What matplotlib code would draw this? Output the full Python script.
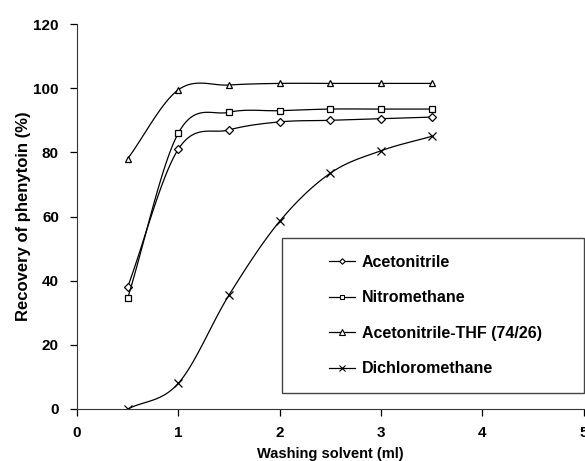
import numpy as np
import matplotlib.pyplot as plt
from matplotlib.patches import Rectangle

plt.rcParams['font.family'] = ['Liberation Sans', 'DejaVu Sans']
plt.rcParams['font.weight'] = 'bold'

# data
volume = [0.5, 1.0, 1.5, 2.0, 2.5, 3.0, 3.5]
acetonitrile = [38, 81, 87, 89.5, 90, 90.5, 91]
nitromethane = [34.5, 86, 92.5, 93, 93.5, 93.5, 93.5]
acn_thf = [78, 99.5, 101, 101.5, 101.5, 101.5, 101.5]
dichloromethane = [0, 8, 35.5, 58.5, 73.5, 80.5, 85]

labels = ['Acetonitrile', 'Nitromethane', 'Acetonitrile-THF (74/26)', 'Dichloromethane']
markers = ['D', 's', '^', 'x']
msizes = [4, 4.5, 5, 6]


def smooth(x, y, n=20):
    # Catmull-Rom curve through the points (like Excel "smoothed line")
    x = np.asarray(x, float)
    y = np.asarray(y, float)
    px = np.concatenate([[2 * x[0] - x[1]], x, [2 * x[-1] - x[-2]]])
    py = np.concatenate([[2 * y[0] - y[1]], y, [2 * y[-1] - y[-2]]])
    xs, ys = [], []
    t = np.linspace(0, 1, n, endpoint=False)
    for i in range(1, len(px) - 2):
        for p, out in ((px, xs), (py, ys)):
            p0, p1, p2, p3 = p[i - 1], p[i], p[i + 1], p[i + 2]
            out.extend(0.5 * (2 * p1 + (-p0 + p2) * t
                              + (2 * p0 - 5 * p1 + 4 * p2 - p3) * t ** 2
                              + (-p0 + 3 * p1 - 3 * p2 + p3) * t ** 3))
    xs.append(x[-1])
    ys.append(y[-1])
    return np.array(xs), np.array(ys)


fig = plt.figure(figsize=(5.85, 4.61), dpi=100)
ax = fig.add_axes([0.1316, 0.1128, 0.866, 0.835])

handles = []
for y, lab, m, ms in zip([acetonitrile, nitromethane, acn_thf, dichloromethane],
                         labels, markers, msizes):
    sx, sy = smooth(volume, y)
    ax.plot(sx, sy, color='black', lw=0.9)
    ax.plot(volume, y, ls='none', marker=m, ms=ms, mfc='white', mec='black', mew=0.9)
    h, = ax.plot([], [], color='black', lw=0.9, marker=m, ms=ms - 1.2,
                 mfc='white', mec='black', mew=0.8)
    handles.append(h)

ax.set_xlim(0, 5)
ax.set_ylim(0, 120)
ax.set_xticks(range(0, 6))
ax.set_yticks(range(0, 121, 20))
for s in ['top', 'right']:
    ax.spines[s].set_visible(False)
for s in ['left', 'bottom']:
    ax.spines[s].set_color('#333333')
ax.tick_params(direction='out', length=5, width=0.9, labelsize=11, colors='black')
ax.tick_params(axis='x', pad=7)
ax.tick_params(axis='y', pad=8)
for lbl in ax.get_xticklabels() + ax.get_yticklabels():
    lbl.set_fontweight('bold')

ax.set_xlabel('Washing solvent (ml)', fontsize=10.5, fontweight='bold', labelpad=5)
ax.set_ylabel('Recovery of phenytoin (%)', fontsize=12, fontweight='bold', labelpad=2)

# legend box drawn separately, entries placed inside it
box = Rectangle((0.404, 0.042), 0.596, 0.402, transform=ax.transAxes,
                fill=True, facecolor='white', edgecolor='#444444', lw=1.0,
                clip_on=False, zorder=4)
ax.add_patch(box)
leg = ax.legend(handles, labels, loc='upper left', bbox_to_anchor=(0.497, 0.40),
                prop={'size': 11.5, 'weight': 'bold'}, frameon=False,
                handlelength=1.65, handletextpad=0.4, labelspacing=1.28,
                borderpad=0, borderaxespad=0)
leg.set_zorder(5)

fig.savefig('out.png', dpi=100)
